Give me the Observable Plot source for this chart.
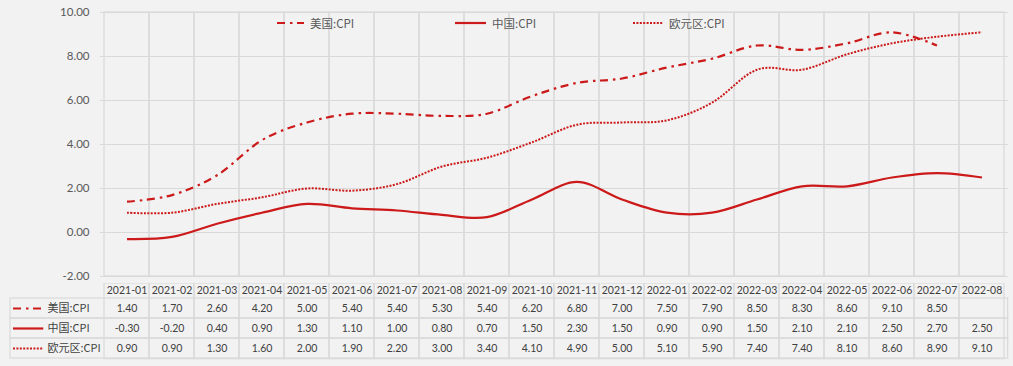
<!DOCTYPE html>
<html>
<head>
<meta charset="utf-8">
<script src="https://cdn.jsdelivr.net/npm/d3@7"></script>
<script src="https://cdn.jsdelivr.net/npm/@observablehq/plot@0.6"></script>
<style>
  html, body { margin: 0; padding: 0; background: #f2f2f2; }
  #wrap { position: relative; width: 1013px; height: 366px; background: #f2f2f2; overflow: hidden;
          font-family: Lato, "Noto Sans CJK SC", sans-serif; }
  #wrap svg { display: block; background: transparent; }
  .leg { position: absolute; top: 15px; height: 16px; display: flex; align-items: center;
         font: 11.5px "Noto Sans CJK SC", Lato, sans-serif; color: #595959; white-space: nowrap; }
  .leg svg { margin-right: 6px; }
</style>
</head>
<body>
<div id="wrap"></div>
<script>
const months = ["2021-01","2021-02","2021-03","2021-04","2021-05","2021-06","2021-07","2021-08","2021-09","2021-10",
                "2021-11","2021-12","2022-01","2022-02","2022-03","2022-04","2022-05","2022-06","2022-07","2022-08"];
const seriesNames = ["美国:CPI", "中国:CPI", "欧元区:CPI"];
const usCPI = [1.40,1.70,2.60,4.20,5.00,5.40,5.40,5.30,5.40,6.20,6.80,7.00,7.50,7.90,8.50,8.30,8.60,9.10,8.50,null];
const cnCPI = [-0.30,-0.20,0.40,0.90,1.30,1.10,1.00,0.80,0.70,1.50,2.30,1.50,0.90,0.90,1.50,2.10,2.10,2.50,2.70,2.50];
const euCPI = [0.90,0.90,1.30,1.60,2.00,1.90,2.20,3.00,3.40,4.10,4.90,5.00,5.10,5.90,7.40,7.40,8.10,8.60,8.90,9.10];
const yTicks = [-2, 0, 2, 4, 6, 8, 10];

const RED = "#cc1a1a";
const GRID = "#d9d9d9";
const styles = {
  "美国:CPI": {strokeWidth: 2.2, strokeDasharray: "8,5,2.5,4.5"},
  "中国:CPI": {strokeWidth: 2.2, strokeDasharray: null},
  "欧元区:CPI": {strokeWidth: 2, strokeDasharray: "2,1.4"}
};
const valuesBySeries = {"美国:CPI": usCPI, "中国:CPI": cnCPI, "欧元区:CPI": euCPI};

const table = [];
for (const s of seriesNames) {
  valuesBySeries[s].forEach((v, i) => table.push({series: s, month: months[i], value: v}));
}

const W = 1013;
const xScale = {type: "band", domain: months, padding: 0, axis: null};

const chart = Plot.plot({
  width: W, height: 283,
  marginLeft: 100, marginRight: 5.3, marginTop: 12, marginBottom: 7,
  style: {background: "transparent", fontFamily: "Lato, sans-serif"},
  x: xScale,
  y: {domain: [-2, 10], ticks: yTicks, axis: null},
  marks: [
    Plot.ruleY(yTicks, {stroke: GRID, strokeWidth: 1.2}),
    Plot.cell(months, {x: d => d, fill: "none", stroke: GRID, strokeWidth: 1.2}),
    Plot.text(yTicks, {y: d => d, text: d => d.toFixed(2), frameAnchor: "left", textAnchor: "end", dx: -11,
                       fill: "#595959", fontSize: 11.5}),
    ...seriesNames.map(s => Plot.line(table.filter(d => d.series === s && d.value != null), {
      x: "month", y: "value", stroke: RED, curve: "cardinal", tension: 0, strokeLinecap: "butt",
      strokeWidth: styles[s].strokeWidth, strokeDasharray: styles[s].strokeDasharray
    }))
  ]
});

const tbl = Plot.plot({
  width: W, height: 83,
  marginLeft: 100, marginRight: 5.3, marginTop: 14.7, marginBottom: 7.3,
  style: {background: "transparent", fontFamily: "Lato, sans-serif"},
  x: xScale,
  y: {type: "band", domain: seriesNames, padding: 0, axis: null},
  marks: [
    Plot.cell(seriesNames, {y: d => d, fill: "none", stroke: GRID, strokeWidth: 1.2, insetLeft: -90}),
    Plot.cell(months, {x: d => d, fill: "none", stroke: GRID, strokeWidth: 1.2, insetTop: -14.7}),
    Plot.text(months, {x: d => d, text: d => d, frameAnchor: "top", lineAnchor: "middle", dy: -7.3,
                       fill: "#404040", fontSize: 10.5}),
    Plot.text(table.filter(d => d.value != null), {x: "month", y: "series", text: d => d.value.toFixed(2),
                                                    fill: "#404040", fontSize: 10.5}),
    Plot.text(seriesNames, {y: d => d, text: d => d, frameAnchor: "left", textAnchor: "start", dx: -53,
                            fill: "#404040", fontSize: 11, fontFamily: "'Noto Sans CJK SC', sans-serif"}),
    ...seriesNames.map(s => Plot.ruleY([s], {y: d => d, stroke: RED, insetLeft: -87, insetRight: 964.4,
                                            strokeLinecap: "butt",
                                            strokeWidth: styles[s].strokeWidth, strokeDasharray: styles[s].strokeDasharray}))
  ]
});

const wrap = document.getElementById("wrap");
wrap.appendChild(chart);
wrap.appendChild(tbl);

// top legend
const legendPos = [{s: "美国:CPI", left: 277, w: 27}, {s: "中国:CPI", left: 455, w: 31}, {s: "欧元区:CPI", left: 633, w: 30}];
for (const {s, left, w} of legendPos) {
  const div = document.createElement("div");
  div.className = "leg";
  div.style.left = left + "px";
  const st = styles[s];
  div.innerHTML = `<svg width="${w}" height="6"><line x1="0" x2="${w}" y1="3" y2="3" stroke="${RED}" stroke-width="${st.strokeWidth}" ${st.strokeDasharray ? `stroke-dasharray="${st.strokeDasharray}"` : ""}/></svg><span>${s}</span>`;
  wrap.appendChild(div);
}
</script>
</body>
</html>
